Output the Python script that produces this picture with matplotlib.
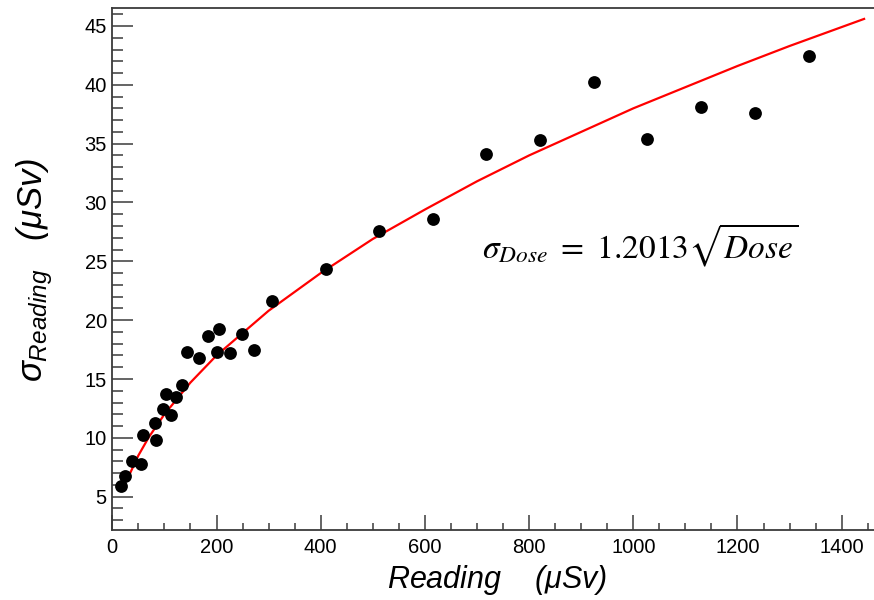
import numpy as np
import matplotlib
matplotlib.use("Agg")
import matplotlib.pyplot as plt
from matplotlib.ticker import MultipleLocator

# measured points: reading [uSv] vs sigma [uSv]
reading = [16.7, 24.3, 38.4, 55.0, 58.3, 82.0, 83.8, 96.7, 102.4, 112.0,
           122.8, 133.1, 143.9, 165.7, 183.0, 204.0, 201.4, 226.4, 248.2, 271.2,
           305.8, 409.4, 511.6, 614.6, 718.2, 821.8, 924.6, 1027.0, 1130.6, 1234.0,
           1337.0]
sigma = [5.93, 6.78, 8.06, 7.80, 10.27, 11.29, 9.79, 12.42, 13.75, 11.90,
         13.47, 14.46, 17.27, 16.78, 18.68, 19.27, 17.27, 17.18, 18.80, 17.49,
         21.65, 24.32, 27.60, 28.60, 34.12, 35.28, 40.21, 35.39, 38.08, 37.63,
         42.42]

# fit curve
fit_x = [30, 50, 70, 100, 150, 200, 300, 400, 500, 600, 700, 800, 900,
         1000, 1100, 1200, 1300, 1443]
fit_y = [6.6, 8.5, 10.05, 12.0, 14.7, 17.0, 20.8, 24.0, 26.9, 29.4, 31.8,
         34.0, 36.0, 38.0, 39.8, 41.6, 43.3, 45.6]

plt.rcParams['mathtext.fontset'] = 'custom'
plt.rcParams['mathtext.rm'] = 'Liberation Sans'
plt.rcParams['mathtext.it'] = 'Liberation Sans:italic'
plt.rcParams['font.family'] = 'Liberation Sans'

fig = plt.figure(figsize=(8.74, 6.0), dpi=100)
ax = fig.add_axes([0.1285, 0.1167, 0.8715, 0.8708])

ax.plot(fit_x, fit_y, color='red', lw=1.6, zorder=2)
ax.scatter(reading, sigma, s=85, color='black', zorder=3, linewidths=0)

ax.set_xlim(0, 1462)
ax.set_ylim(2.17, 46.57)

ax.xaxis.set_major_locator(MultipleLocator(200))
ax.xaxis.set_minor_locator(MultipleLocator(50))
ax.yaxis.set_major_locator(MultipleLocator(5))
ax.yaxis.set_minor_locator(MultipleLocator(1))

axcol = '#3a3a3a'
for side in ['left', 'bottom', 'top']:
    ax.spines[side].set_color(axcol)
    ax.spines[side].set_linewidth(1.3)
ax.spines['right'].set_visible(False)

ax.tick_params(axis='x', which='major', direction='in', length=11, width=1.1,
               color=axcol, labelsize=14.5, pad=6)
ax.tick_params(axis='x', which='minor', direction='in', length=5, width=1.1,
               color=axcol)
ax.tick_params(axis='y', which='major', direction='in', length=15, width=1.1,
               color=axcol, labelsize=14.5, pad=4)
ax.tick_params(axis='y', which='minor', direction='in', length=8, width=1.1,
               color=axcol)

fig.text(497 / 874, 1 - 580 / 600, r'Reading    ($\mu$Sv)', fontsize=22,
         style='italic', ha='center', va='center')
fig.text(35 / 874, 1 - 270 / 600, r'$\sigma_{Reading}$   ($\mu$Sv)',
         fontsize=25, style='italic', rotation=90, ha='center', va='center')

fig.text(482 / 874, 1 - 258 / 600, r'$\sigma_{Dose}\ =\ 1.2013\sqrt{Dose}$',
         fontsize=24, math_fontfamily='stix', ha='left', va='baseline')

fig.savefig('out.png', dpi=100)
